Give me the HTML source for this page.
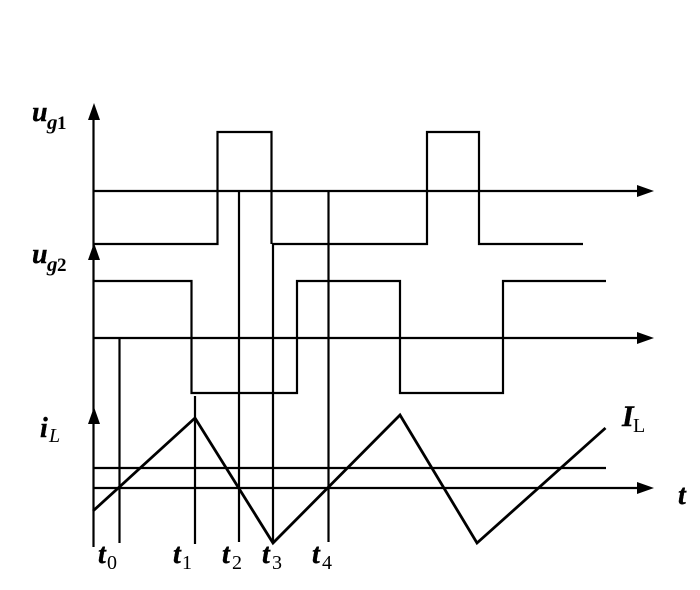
<!DOCTYPE html>
<html>
<head>
<meta charset="utf-8">
<style>
html,body{margin:0;padding:0;background:#fff;}
svg{display:block;}
text{font-family:"Liberation Serif",serif;fill:#000;}
.m{font-weight:bold;font-style:italic;font-size:28px;stroke:#000;stroke-width:.4px;}
.s{font-weight:bold;font-style:italic;font-size:21px;}
.b{font-weight:bold;font-size:19px;}
.n{font-size:20px;}
</style>
</head>
<body>
<svg width="700" height="590" viewBox="0 0 700 590" xmlns="http://www.w3.org/2000/svg">
<g fill="none" stroke="#000" stroke-width="2.2">
<path d="M93.5 547V115"/>
<path d="M93 191H642"/>
<path d="M93 338H642"/>
<path d="M93 488H642"/>
<path d="M93 468H606"/>
<path d="M93 244H217.5V132H271.5V244M272.5 244H427V132H479V244H583"/>
<path d="M93 281H191.5V393H297V281H400V393H503V281H606"/>
<path d="M119.5 338V543"/>
<path d="M195 396V544"/>
<path d="M239 191V542"/>
<path d="M273 244V543"/>
<path d="M328.5 191V542"/>
<path d="M93 511L195 418L273 543L400 415L477 543L605.500 428" stroke-width="2.800"/>
</g>
<g fill="#000">
<path d="M94 103L88 120H100Z"/>
<path d="M94 243L88 260H100Z"/>
<path d="M94 407L88 424H100Z"/>
<path d="M654 191L637 185V197Z"/>
<path d="M654 338L637 332V344Z"/>
<path d="M654 488L637 482V494Z"/>
</g>
<text x="32" y="121" class="m">u</text><text x="47" y="129" class="s">g</text><text x="57" y="129" class="b">1</text>
<text x="32" y="263" class="m">u</text><text x="47" y="271" class="s">g</text><text x="57" y="271" class="b">2</text>
<text x="40" y="437" class="m">i</text><text x="49" y="442" class="s" style="font-weight:normal;font-size:20px">L</text>
<text x="622" y="426" class="m" style="font-size:30px">I</text><text x="633" y="432" class="n">L</text>
<text x="678" y="504" class="m">t</text>
<text x="98" y="563" class="m">t</text><text x="107" y="569" class="n">0</text>
<text x="173" y="563" class="m">t</text><text x="182" y="569" class="n">1</text>
<text x="222" y="563" class="m">t</text><text x="232" y="569" class="n">2</text>
<text x="262" y="563" class="m">t</text><text x="272" y="569" class="n">3</text>
<text x="312" y="563" class="m">t</text><text x="322" y="569" class="n">4</text>
</svg>
</body>
</html>
